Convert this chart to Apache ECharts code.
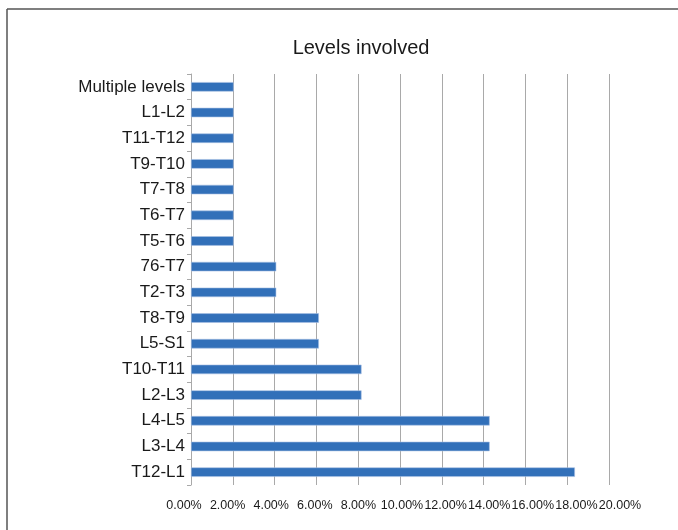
<!DOCTYPE html>
<html>
<head>
<meta charset="utf-8">
<script src="https://cdn.jsdelivr.net/npm/echarts@6/dist/echarts.min.js"></script>
<style>
html,body{margin:0;padding:0;background:#fff;}
#chart{width:678px;height:530px;}
</style>
</head>
<body>
<div id="chart"></div>
<script>
// Categories listed bottom to top
const categories = ['T12-L1','L3-L4','L4-L5','L2-L3','T10-T11','L5-S1','T8-T9','T2-T3','76-T7','T5-T6','T6-T7','T7-T8','T9-T10','T11-T12','L1-L2','Multiple levels'];
const percentValues = [18.37,14.29,14.29,8.16,8.16,6.12,6.12,4.08,4.08,2.04,2.04,2.04,2.04,2.04,2.04,2.04];
const xTicks = [0,2,4,6,8,10,12,14,16,18,20];
const titleText = 'Levels involved';

const FONT = '"Liberation Sans", Arial, Helvetica, sans-serif';
const chart = echarts.init(document.getElementById('chart'));
chart.setOption({
  animation: false,
  backgroundColor: '#ffffff',
  textStyle: { fontFamily: FONT },
  title: {
    text: titleText,
    left: 356, top: 33, textAlign: 'center',
    textStyle: { fontSize: 20, fontWeight: 'normal', color: '#1a1a1a', fontFamily: FONT }
  },
  graphic: [
    { type: 'line', shape: { x1: 7, y1: 9, x2: 678, y2: 9 }, style: { stroke: '#555', lineWidth: 1.5 } },
    { type: 'line', shape: { x1: 7, y1: 9, x2: 7, y2: 530 }, style: { stroke: '#555', lineWidth: 1.5 } }
  ],
  grid: [
    { left: 191, right: 69, top: 74, bottom: 45, containLabel: false },
    { left: 184, right: 58, top: 74, bottom: 45, containLabel: false }
  ],
  xAxis: [
    {
      gridIndex: 0,
      type: 'value',
      min: xTicks[0], max: xTicks[xTicks.length - 1], interval: 2,
      axisLine: { show: false },
      axisTick: { show: false },
      splitLine: { show: true, lineStyle: { color: '#a9a9a9', width: 1 } },
      axisLabel: { show: false }
    },
    {
      gridIndex: 1,
      type: 'value',
      min: xTicks[0], max: xTicks[xTicks.length - 1], interval: 2,
      axisLine: { show: false },
      axisTick: { show: false },
      splitLine: { show: false },
      axisLabel: {
        formatter: v => v.toFixed(2) + '%',
        fontSize: 12.5, color: '#1a1a1a', margin: 14,
        showMinLabel: true, showMaxLabel: true, hideOverlap: false,
        fontFamily: FONT
      }
    }
  ],
  yAxis: [
    {
      gridIndex: 0,
      type: 'category',
      data: categories,
      axisLine: { show: true, lineStyle: { color: '#a9a9a9', width: 1 } },
      axisTick: { show: true, length: 4, lineStyle: { color: '#a9a9a9' } },
      axisLabel: { fontSize: 17, color: '#1a1a1a', margin: 6, fontFamily: FONT },
      splitLine: { show: false }
    },
    {
      gridIndex: 1,
      type: 'category',
      data: categories,
      show: false
    }
  ],
  series: [{
    type: 'bar',
    xAxisIndex: 0, yAxisIndex: 0,
    data: percentValues,
    barWidth: 9.5,
    itemStyle: { color: '#3270b9', borderColor: '#a9c1e4', borderWidth: 0.6 }
  }]
});
</script>
</body>
</html>
